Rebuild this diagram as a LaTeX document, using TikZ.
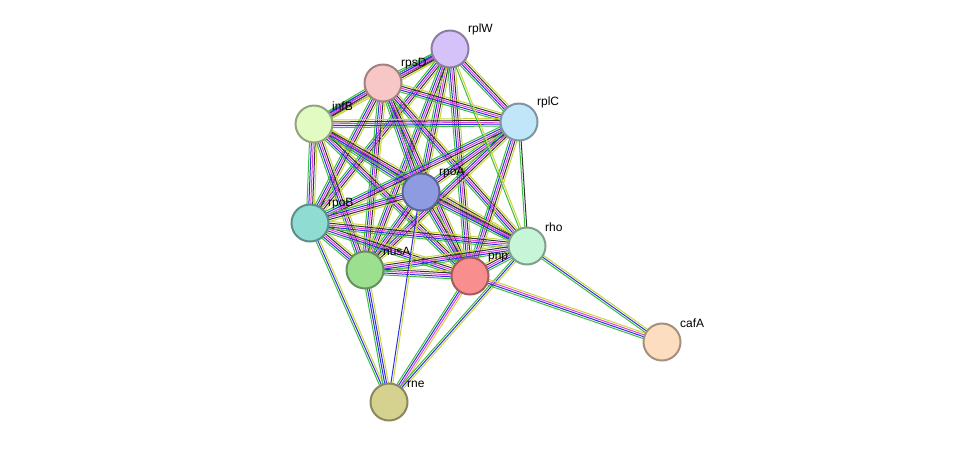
\documentclass[tikz,border=0pt]{standalone}
\usepackage{fontspec}
\setmainfont{Liberation Sans}
\usetikzlibrary{calc,backgrounds}
\definecolor{eg}{HTML}{3DBF3D}
\definecolor{eb}{HTML}{2F2FE0}
\definecolor{em}{HTML}{E23FE2}
\definecolor{ey}{HTML}{C8D43A}
\definecolor{ek}{HTML}{333333}
\definecolor{er}{HTML}{E02F2F}
\tikzset{
prot/.style={circle, draw=#1!65!black, fill=#1, line width=2pt, minimum size=37pt, inner sep=0pt},
}
% edge: source, target, list of colours
\newcommand{\lnk}[3]{%
  \foreach \c [count=\i] in {#3} {\xdef\nn{\i}}%
  \foreach \c [count=\i] in {#3} {%
    \pgfmathsetmacro{\o}{(\i-(\nn+1)/2)*1.9}%
    \draw[\c, line width=1pt] ($(#1)!\o pt!90:(#2)$) -- ($(#2)!\o pt!-90:(#1)$);}%
}
\begin{document}
\begin{tikzpicture}[x=1pt,y=-1pt, lab/.style={font=\fontsize{12}{14}\selectfont, inner sep=1pt, yshift=3pt}]
\useasboundingbox (0,0) rectangle (976,448);
%Nodes
\definecolor{cW}{HTML}{D4C2F8}\definecolor{cD}{HTML}{F7C6C6}\definecolor{cB}{HTML}{E2FBC3}
\definecolor{cC}{HTML}{C2E6F9}\definecolor{cA}{HTML}{8F9BE0}\definecolor{cP}{HTML}{8FDCD2}
\definecolor{cH}{HTML}{C6F5D8}\definecolor{cN}{HTML}{9CDF8E}\definecolor{cX}{HTML}{F98E8E}
\definecolor{cF}{HTML}{FCDDBF}\definecolor{cE}{HTML}{D4D28E}
\node[prot=cW, label={[lab]30:rplW}] (rplW) at (450,49) {};
\node[prot=cD, label={[lab]30:rpsD}] (rpsD) at (383,83) {};
\node[prot=cB, label={[lab]30:infB}] (infB) at (314,124) {};
\node[prot=cC, label={[lab]30:rplC}] (rplC) at (519,122) {};
\node[prot=cA, label={[lab]30:rpoA}] (rpoA) at (421,192) {};
\node[prot=cP, label={[lab]30:rpoB}] (rpoB) at (310,223) {};
\node[prot=cH, label={[lab]30:rho}]  (rho)  at (527,246) {};
\node[prot=cN, label={[lab]30:nusA}] (nusA) at (365,270) {};
\node[prot=cX, label={[lab]30:pnp}]  (pnp)  at (470,276) {};
\node[prot=cF, label={[lab]30:cafA}] (cafA) at (662,342) {};
\node[prot=cE, label={[lab]30:rne}]  (rne)  at (389,402) {};
%Lines
\begin{pgfonlayer}{background}
\foreach \a/\b in {rplW/rpsD,rplW/infB,rplW/rplC,rplW/rpoA,rplW/rpoB,rplW/nusA,rplW/pnp,
  rpsD/infB,rpsD/rplC,rpsD/rpoA,rpsD/rpoB,rpsD/nusA,rpsD/pnp,rpsD/rho,
  infB/rplC,infB/rpoA,infB/rpoB,infB/nusA,infB/pnp,infB/rho,
  rplC/rpoA,rplC/rpoB,rplC/nusA,rplC/pnp,
  rpoA/rpoB,rpoA/nusA,rpoA/pnp,rpoA/rho,
  rpoB/nusA,rpoB/pnp,rpoB/rho,nusA/pnp,nusA/rho,pnp/rho}
  {\lnk{\a}{\b}{eg,eb,em,ek,ey}}
\lnk{rplC}{rho}{eg,ek}
\lnk{rplW}{rho}{eg,ey}
\lnk{rpoA}{rne}{eb,ey}
\lnk{rpoB}{rne}{eg,eb,ey}
\lnk{nusA}{rne}{eg,eb,eb,ey}
\lnk{pnp}{rne}{eg,eb,em,ey}
\lnk{rho}{rne}{eg,eb,ey}
\lnk{rho}{cafA}{eg,eb,ey}
\lnk{pnp}{cafA}{eg,eb,em,ey}
\end{pgfonlayer}
\end{tikzpicture}
\end{document}
